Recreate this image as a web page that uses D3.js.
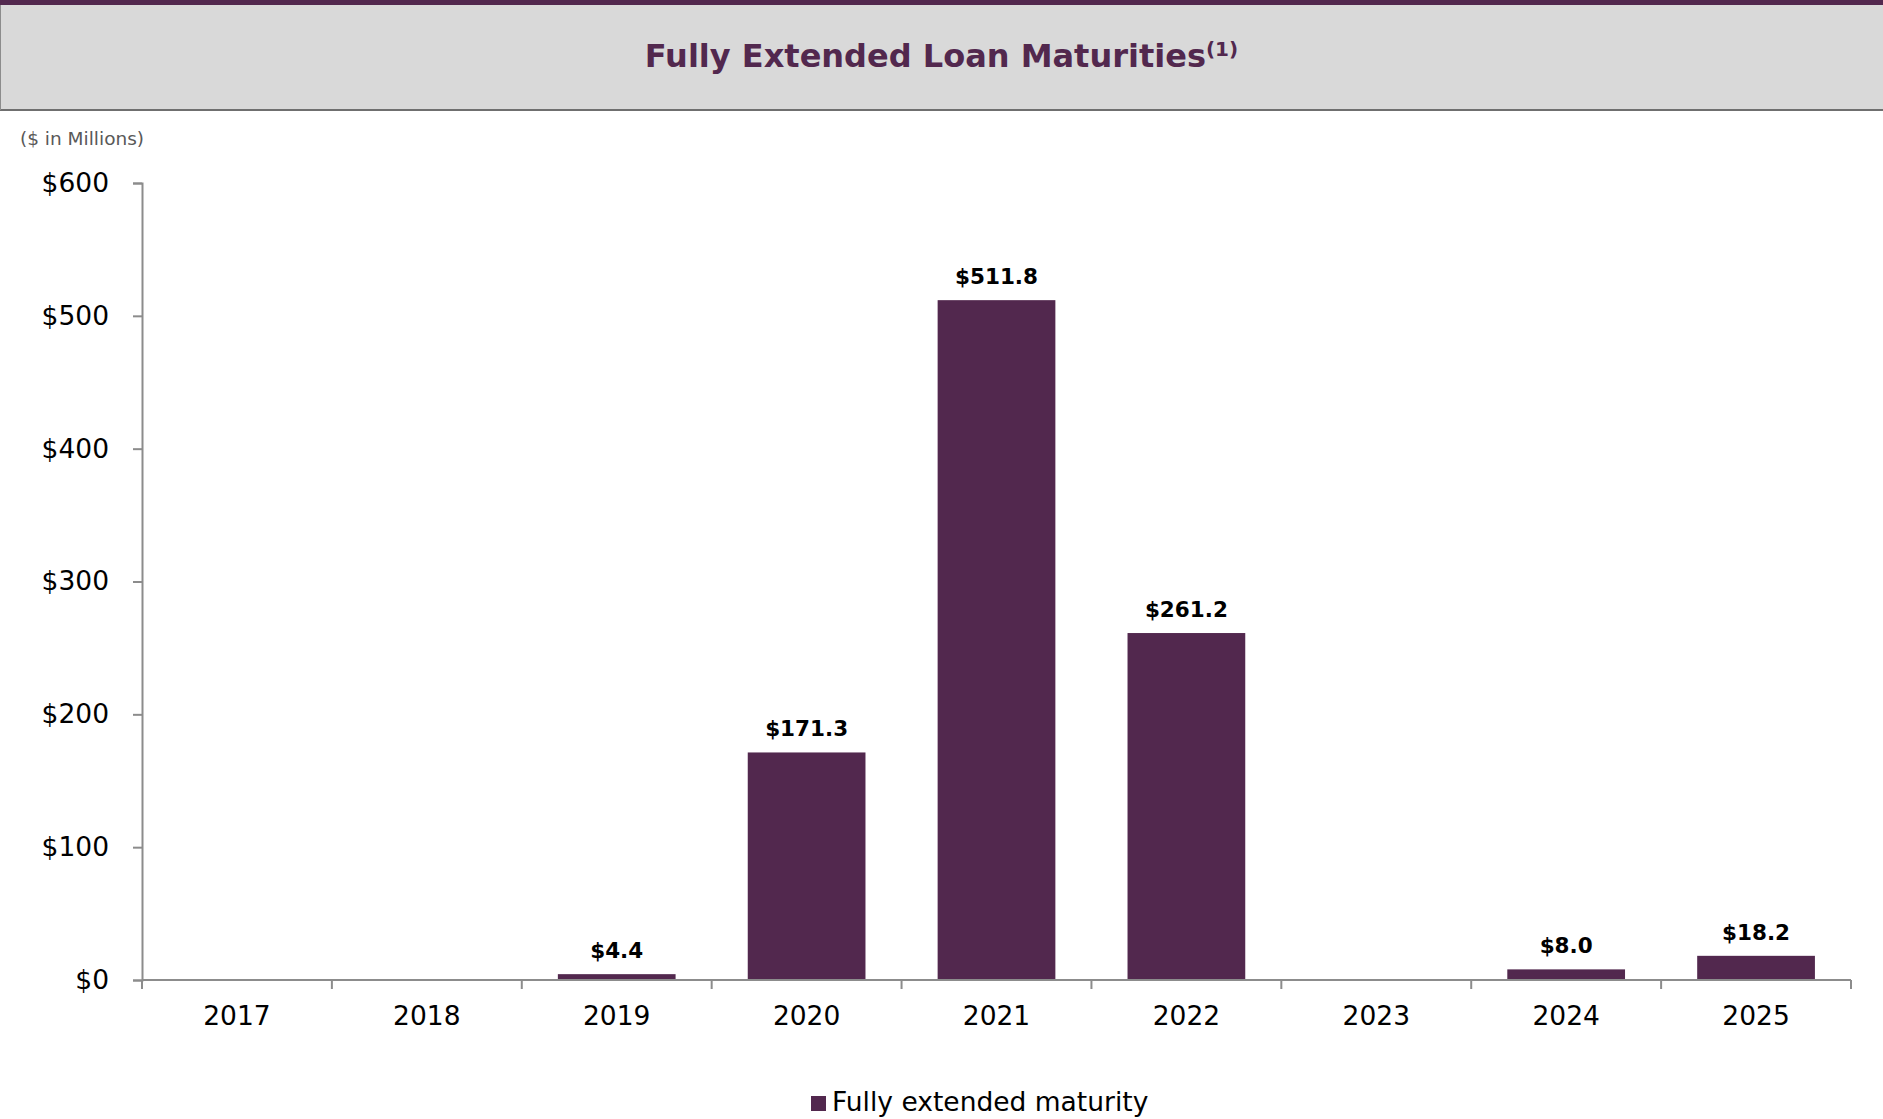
<!DOCTYPE html>
<html>
<head>
<meta charset="utf-8">
<script src="https://cdn.jsdelivr.net/npm/d3@7"></script>
<style>
  body { margin: 0; background: #fff; }
  svg { display: block; }
</style>
</head>
<body>
<div id="chart"></div>
<script>
// chart data
const years = ['2017', '2018', '2019', '2020', '2021', '2022', '2023', '2024', '2025'];
const maturities = [null, null, 4.4, 171.3, 511.8, 261.2, null, 8.0, 18.2];
const yTicks = [0, 100, 200, 300, 400, 500, 600];
const seriesName = 'Fully extended maturity';

const width = 1883, height = 1119;
const purple = '#52284e';
const axisGray = '#8c8c8c';
const labelFont = '"DejaVu Sans", Verdana, sans-serif';

const svg = d3.select('#chart').append('svg')
  .attr('width', width)
  .attr('height', height);

// header band
svg.append('rect')
  .attr('x', 0).attr('y', 0)
  .attr('width', width).attr('height', 110)
  .style('fill', '#d9d9d9');
svg.append('rect')
  .attr('x', 0).attr('y', 0)
  .attr('width', width).attr('height', 5)
  .style('fill', purple);
svg.append('line')
  .attr('x1', 0).attr('x2', width)
  .attr('y1', 110).attr('y2', 110)
  .style('stroke', '#6f6f6f').style('stroke-width', 2);
svg.append('line')
  .attr('x1', 0.5).attr('x2', 0.5)
  .attr('y1', 5).attr('y2', 110)
  .style('stroke', '#8c8c8c').style('stroke-width', 1);

let title = svg.append('text')
  .attr('x', width / 2)
  .attr('y', 67)
  .attr('text-anchor', 'middle')
  .style('font-family', labelFont)
  .style('font-weight', 'bold')
  .style('font-size', '32px')
  .style('fill', purple);
title.append('tspan').text('Fully Extended Loan Maturities');
title.append('tspan')
  .attr('dy', -11)
  .style('font-size', '20px')
  .text('(1)');

svg.append('text')
  .attr('x', 20)
  .attr('y', 145)
  .style('font-family', labelFont)
  .style('font-size', '18.5px')
  .style('fill', '#595959')
  .text('($ in Millions)');

// scales
let x = d3.scaleBand()
  .domain(years)
  .range([142, 1851])
  .paddingInner(0.38)
  .paddingOuter(0.19);

let y = d3.scaleLinear()
  .domain([0, 600])
  .range([980, 183]);

// y axis
let yAxis = svg.append('g')
  .attr('transform', 'translate(142,0)')
  .call(d3.axisLeft(y)
    .tickValues(yTicks)
    .tickSize(9)
    .tickSizeOuter(9)
    .tickPadding(24)
    .tickFormat(d => '$' + d));

yAxis.selectAll('path, line')
  .style('stroke', axisGray)
  .style('stroke-width', 2);
yAxis.selectAll('text')
  .style('font-family', labelFont)
  .style('font-size', '26.5px')
  .style('fill', '#000');

// bars
let barData = years.map((yr, i) => ({ year: yr, value: maturities[i] }))
  .filter(d => d.value !== null);
let bars = svg.append('g').attr('class', 'data');

bars.selectAll('rect')
  .data(barData)
  .enter().append('rect')
  .attr('x', d => x(d.year))
  .attr('y', d => y(d.value))
  .attr('width', x.bandwidth())
  .attr('height', d => y(0) - y(d.value))
  .style('fill', purple);

bars.selectAll('text')
  .data(barData)
  .enter().append('text')
  .attr('x', d => x(d.year) + x.bandwidth() / 2)
  .attr('y', d => y(d.value) - 16)
  .attr('text-anchor', 'middle')
  .style('font-family', labelFont)
  .style('font-weight', 'bold')
  .style('font-size', '21.5px')
  .style('fill', '#000')
  .text(d => '$' + d.value.toFixed(1));

// x axis
let xAxis = svg.append('g').attr('class', 'xAxis');
let [x0, x1] = x.range();

xAxis.append('line')
  .attr('x1', x0).attr('x2', x1)
  .attr('y1', y(0)).attr('y2', y(0))
  .style('stroke', axisGray)
  .style('stroke-width', 2);

xAxis.selectAll('line.tick')
  .data(d3.range(years.length + 1))
  .enter().append('line')
  .attr('class', 'tick')
  .attr('x1', i => x0 + i * x.step())
  .attr('x2', i => x0 + i * x.step())
  .attr('y1', y(0))
  .attr('y2', y(0) + 9)
  .style('stroke', axisGray)
  .style('stroke-width', 2);

xAxis.selectAll('text')
  .data(years)
  .enter().append('text')
  .attr('x', d => x(d) + x.bandwidth() / 2)
  .attr('y', 1025)
  .attr('text-anchor', 'middle')
  .style('font-family', labelFont)
  .style('font-size', '26.5px')
  .style('fill', '#000')
  .text(d => d);

// legend
let legend = svg.append('g').attr('class', 'legend');
legend.append('rect')
  .attr('x', 811).attr('y', 1096)
  .attr('width', 15).attr('height', 15)
  .style('fill', purple);
legend.append('text')
  .attr('x', 832)
  .attr('y', 1111)
  .style('font-family', labelFont)
  .style('font-size', '26.5px')
  .style('fill', '#000')
  .text(seriesName);
</script>
</body>
</html>
